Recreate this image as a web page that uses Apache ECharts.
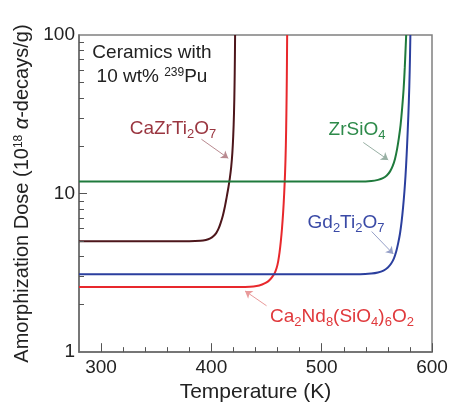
<!DOCTYPE html>
<html>
<head>
<meta charset="utf-8">
<script src="https://cdn.jsdelivr.net/npm/echarts@6/dist/echarts.min.js"></script>
<style>
  html, body { margin: 0; padding: 0; background: #fff; }
  #chart { width: 461px; height: 408px; }
</style>
</head>
<body>
<div id="chart"></div>
<script>
// curve values (T in K, dose in 1e18 alpha-decays/g)
const tempCaZr = [280, 380, 390, 395, 399, 402, 404.5, 406.5, 408.5, 410.5, 412.3, 414, 415.5, 416.8, 418, 419, 419.8, 420.5, 421, 421.3, 421.5];
const doseCaZr = [5.0, 5.0, 5.03, 5.1, 5.22, 5.4, 5.65, 6.0, 6.55, 7.3, 8.3, 9.6, 11.0, 12.6, 14.8, 18, 23, 32, 48, 70, 100];

const tempCaNd = [280, 425, 435, 441, 446, 450, 453, 455.5, 457.5, 459.2, 460.6, 461.8, 462.9, 464, 465, 466, 466.8, 467.5, 468, 468.4, 468.7];
const doseCaNd = [2.57, 2.57, 2.58, 2.61, 2.67, 2.75, 2.86, 3.0, 3.16, 3.4, 3.75, 4.25, 4.95, 6.0, 7.5, 10, 13.5, 20, 32, 55, 100];

const tempZr = [280, 535, 545, 551, 555.5, 559, 562, 564.5, 566.5, 568.3, 570, 571.5, 573, 574.3, 575.3, 576, 576.6];
const doseZr = [11.9, 11.9, 12.0, 12.2, 12.5, 13.0, 13.8, 15.0, 16.6, 19, 22.5, 27, 35, 46, 62, 80, 100];

const tempGd = [280, 535, 545, 551, 556, 560, 563, 565.5, 567.5, 569.3, 571, 572.5, 573.8, 575, 576, 577, 578, 579, 579.8, 580.4];
const doseGd = [3.1, 3.1, 3.13, 3.18, 3.27, 3.42, 3.62, 3.9, 4.3, 4.85, 5.6, 6.7, 8.2, 10.3, 13, 17.5, 25, 38, 60, 100];

// tick values
const xMajorTicks = [300, 400, 500, 600];
const xMinorTicks = [320, 340, 360, 380, 420, 440, 460, 480, 520, 540, 560, 580];
const yMajorTicks = [10];
const yMinorTicks = [2, 3, 4, 5, 6, 7, 8, 9, 20, 30, 40, 50, 60, 70, 80, 90];

// arrows from labels to curves: [[T1, D1], [T2, D2]]
const arrowCaZr = [[391, 22], [415.3, 16.7]];
const arrowZr = [[537.7, 21], [560.3, 16.3]];
const arrowGd = [[545.3, 5.76], [564.9, 4.16]];
const arrowCaNd = [[450, 1.96], [430.5, 2.43]];

const font = '"Liberation Sans", Arial, Helvetica, sans-serif';
const axisColor = '#6a6a6a';
const tickColor = '#555';
const xMin = 280, xMax = 600, yMin = 1, yMax = 100;
const W = 461, H = 408;
const grid = { left: 79, right: 29, top: 35, bottom: 53 };

// pixel length -> data units (for inward tick marks)
const plotW = W - grid.left - grid.right;
const plotH = H - grid.top - grid.bottom;
const kPerPx = (xMax - xMin) / plotW;
const decadesPerPx = Math.log10(yMax / yMin) / plotH;

const zip = (xs, ys) => xs.map((x, i) => [x, ys[i]]);

const arrow = (pts, color) => ({
  silent: true,
  symbol: ['none', 'arrow'],
  symbolSize: 7,
  lineStyle: { color: color, width: 1, type: 'solid' },
  label: { show: false },
  data: [[{ coord: pts[0] }, { coord: pts[1] }]]
});

const curve = (name, data, color, arrowPts, arrowColor) => ({
  name: name,
  type: 'line',
  data: data,
  showSymbol: false,
  smooth: 0.4,
  lineStyle: { color: color, width: 2 },
  itemStyle: { color: color },
  markLine: arrow(arrowPts, arrowColor),
  z: 3
});

const xTickSeg = (v, len) => [{ coord: [v, yMin] }, { coord: [v, yMin * Math.pow(10, len * decadesPerPx)] }];
const yTickSeg = (v, len) => [{ coord: [xMin, v] }, { coord: [xMin + len * kPerPx, v] }];

const tickSegments = [].concat(
  xMajorTicks.map(v => xTickSeg(v, 9)),
  xMinorTicks.map(v => xTickSeg(v, 5)),
  yMajorTicks.map(v => yTickSeg(v, 8)),
  yMinorTicks.map(v => yTickSeg(v, 5))
);

// rich styles for labels with sub/superscripts (zrender style: fill)
const richFor = (color) => ({
  a: { fontFamily: font, fontSize: 19, fill: color, lineHeight: 20, verticalAlign: 'top' },
  s: { fontFamily: font, fontSize: 13, fill: color, lineHeight: 13, verticalAlign: 'top', padding: [9, 0, 0, 0] },
  p: { fontFamily: font, fontSize: 12, fill: color, lineHeight: 12, verticalAlign: 'top' }
});

const label = (x, y, text, color) => ({
  type: 'text',
  x: x,
  y: y,
  style: {
    text: text,
    fill: color,
    rich: richFor(color),
    align: 'center',
    verticalAlign: 'middle'
  },
  z: 10
});

const chart = echarts.init(document.getElementById('chart'));

chart.setOption({
  animation: false,
  backgroundColor: '#fff',
  grid: Object.assign({ show: true, borderColor: '#808080', borderWidth: 1.5 }, grid),
  xAxis: {
    type: 'value', min: xMin, max: xMax,
    axisLine: { show: true, onZero: false, lineStyle: { color: axisColor, width: 1.5 } },
    axisTick: { show: false },
    axisLabel: { customValues: xMajorTicks, color: '#222', fontFamily: font, fontSize: 19, margin: 6 },
    splitLine: { show: false },
    name: 'Temperature (K)',
    nameLocation: 'middle',
    nameGap: 28,
    nameTextStyle: { color: '#222', fontFamily: font, fontSize: 21, verticalAlign: 'top' }
  },
  yAxis: {
    type: 'log', logBase: 10, min: yMin, max: yMax,
    axisLine: { show: true, onZero: false, lineStyle: { color: axisColor, width: 1.5 } },
    axisTick: { show: false },
    axisLabel: { color: '#222', fontFamily: font, fontSize: 19, margin: 4 },
    splitLine: { show: false },
    name: '{a|Amorphization Dose (10}{sup|18}{i| \u03b1}{a|-decays/g)}',
    nameLocation: 'middle',
    nameRotate: 90,
    nameGap: 36,
    nameTextStyle: {
      rich: {
        a: { fontFamily: font, fontSize: 20, color: '#222', lineHeight: 22, verticalAlign: 'top' },
        i: { fontFamily: font, fontSize: 20, color: '#222', lineHeight: 22, verticalAlign: 'top', fontStyle: 'italic' },
        sup: { fontFamily: font, fontSize: 12, color: '#222', lineHeight: 12, verticalAlign: 'top' }
      }
    }
  },
  series: [
    curve('CaZrTi2O7', zip(tempCaZr, doseCaZr), '#4d161b', arrowCaZr, '#b98a90'),
    curve('Ca2Nd8(SiO4)6O2', zip(tempCaNd, doseCaNd), '#e8282c', arrowCaNd, '#e99a9a'),
    curve('ZrSiO4', zip(tempZr, doseZr), '#1f7a3c', arrowZr, '#98b0a4'),
    curve('Gd2Ti2O7', zip(tempGd, doseGd), '#2b3f9e', arrowGd, '#96a0c8'),
    {
      // carrier for the inward tick marks
      name: 'ticks',
      type: 'line',
      data: [[xMin, yMin]],
      showSymbol: false,
      lineStyle: { opacity: 0 },
      markLine: {
        silent: true,
        symbol: ['none', 'none'],
        lineStyle: { color: tickColor, width: 1, type: 'solid' },
        label: { show: false },
        data: tickSegments
      },
      z: 6
    }
  ],
  graphic: [
    label(152, 53, '{a|Ceramics with}', '#222'),
    label(152, 77, '{a|10 wt% }{p|239}{a|Pu}', '#222'),
    label(173, 129, '{a|CaZrTi}{s|2}{a|O}{s|7}', '#9a3640'),
    label(357, 130, '{a|ZrSiO}{s|4}', '#2d8a4a'),
    label(346, 223, '{a|Gd}{s|2}{a|Ti}{s|2}{a|O}{s|7}', '#3a4aa6'),
    label(342, 317, '{a|Ca}{s|2}{a|Nd}{s|8}{a|(SiO}{s|4}{a|)}{s|6}{a|O}{s|2}', '#e0393c')
  ]
});
</script>
</body>
</html>
